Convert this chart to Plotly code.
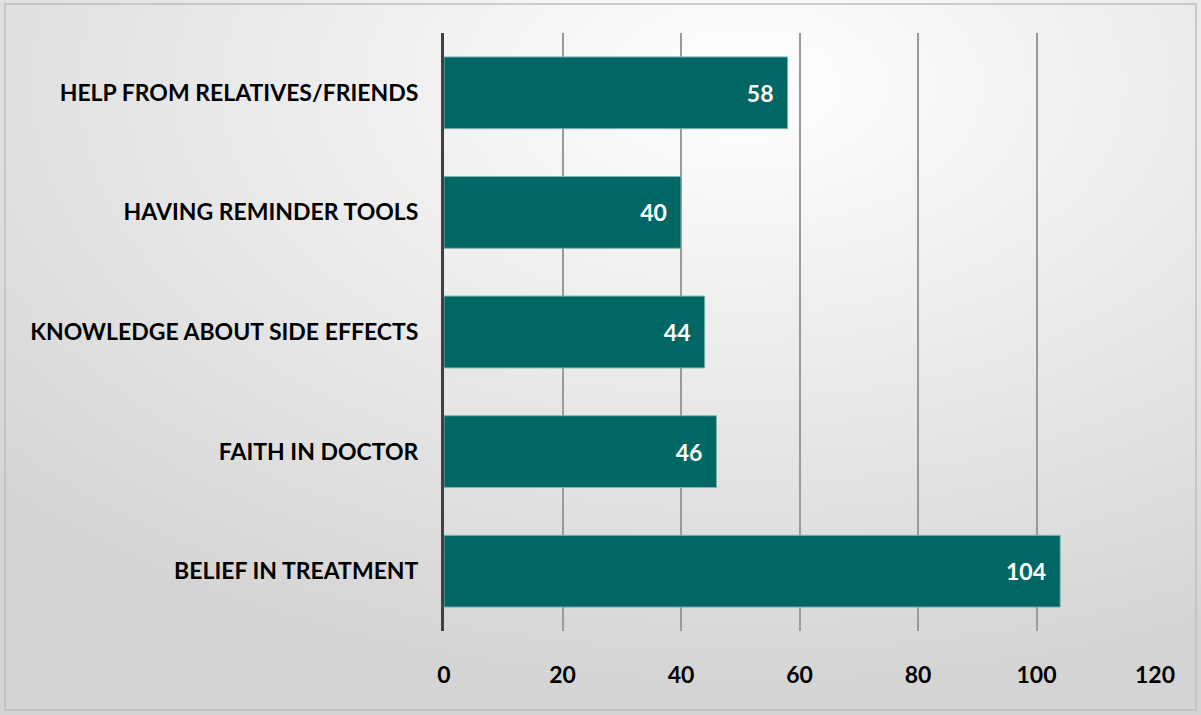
import plotly.graph_objects as go
import base64

categories = ["BELIEF IN TREATMENT", "FAITH IN DOCTOR", "KNOWLEDGE ABOUT SIDE EFFECTS",
              "HAVING REMINDER TOOLS", "HELP FROM RELATIVES/FRIENDS"]
values = [104, 46, 44, 40, 58]
tick_vals = [0, 20, 40, 60, 80, 100, 120]

svg = """<svg xmlns='http://www.w3.org/2000/svg' width='1201' height='715'>
<defs><radialGradient id='g' cx='0.62' cy='0.12' r='0.85' gradientUnits='objectBoundingBox'>
<stop offset='0' stop-color='#ffffff'/><stop offset='1' stop-color='#d4d4d4'/></radialGradient></defs>
<rect x='0' y='0' width='1201' height='715' fill='url(#g)'/></svg>"""
src = "data:image/svg+xml;base64," + base64.b64encode(svg.encode()).decode()

FONT = "Lato"
nb = "\u00a0"
fig = go.Figure(go.Bar(
    y=categories, x=values, orientation="h",
    marker=dict(color="#006764", line=dict(color="#7fb3b1", width=1)),
    text=[f"{v}{nb*2}" for v in values], textposition="inside", insidetextanchor="end",
    textfont=dict(family=FONT, size=23, color="white", weight="bold"),
    cliponaxis=False, hoverinfo="skip",
))

fig.update_layout(
    width=1201, height=715,
    margin=dict(l=444, r=46, t=33, b=84),
    paper_bgcolor="rgba(0,0,0,0)", plot_bgcolor="rgba(0,0,0,0)",
    bargap=0.4, showlegend=False,
    images=[dict(source=src, xref="paper", yref="paper", x=-444/711, y=1+33/598,
                 sizex=1201/711, sizey=715/598, sizing="stretch", layer="below",
                 xanchor="left", yanchor="top")],
    shapes=[dict(type="rect", xref="paper", yref="paper", x0=-439/711, x1=1+41/711,
                 y0=-79/598, y1=1+29/598, line=dict(color="#bfbfbf", width=1.5))],
    xaxis=dict(range=[0, 120], tickvals=tick_vals, showgrid=True, gridcolor="#9a9a9a",
               gridwidth=1.5, zeroline=False, showline=False,
               tickfont=dict(family=FONT, size=23, color="black", weight="bold"),
               ticklabelstandoff=28),
    yaxis=dict(showgrid=False, zeroline=False, showline=True, linecolor="#404040",
               linewidth=3, ticks="", ticklabelstandoff=18,
               tickfont=dict(family=FONT, size=23, color="black", weight="bold")),
)
fig.write_html("out.html", config={"displayModeBar": False},
               post_script="document.body.style.margin='0';document.body.style.overflow='hidden';")
